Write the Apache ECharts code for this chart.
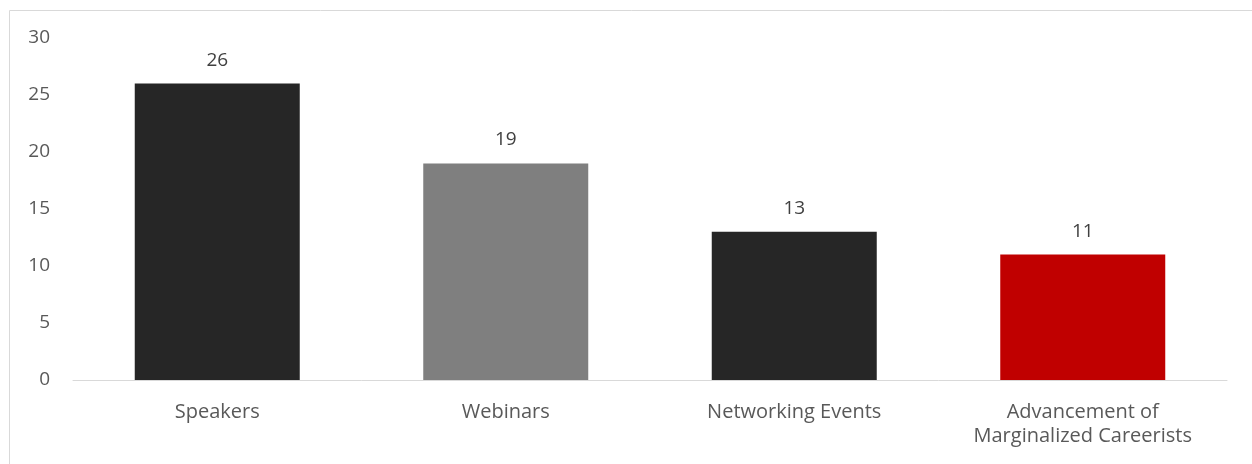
<!DOCTYPE html>
<html>
<head>
<meta charset="utf-8">
<script src="https://cdn.jsdelivr.net/npm/echarts@6/dist/echarts.min.js"></script>
<style>
  html, body { margin: 0; padding: 0; background: #fff; }
  #chart { width: 1252px; height: 464px; }
</style>
</head>
<body>
<div id="chart"></div>
<script>
const categories = ['Speakers', 'Webinars', 'Networking Events', 'Advancement of\nMarginalized Careerists'];
const values = [26, 19, 13, 11];
const barColors = ['#262626', '#7f7f7f', '#262626', '#c00000'];
const yTicks = { min: 0, max: 30, interval: 5 };

const chart = echarts.init(document.getElementById('chart'));
const font = '"Open Sans", "Noto Sans", sans-serif';

chart.setOption({
  animation: false,
  graphic: [{
    type: 'rect',
    shape: { x: 9.5, y: 10.5, width: 1300, height: 500 },
    style: { fill: 'none', stroke: '#d9d9d9', lineWidth: 1 },
    silent: true
  }],
  grid: { left: 73, right: 25, top: 38, bottom: 84 },
  xAxis: {
    type: 'category',
    data: categories,
    axisLine: { lineStyle: { color: '#d9d9d9', width: 1 } },
    axisTick: { show: false },
    axisLabel: {
      color: '#595959', fontFamily: font, fontSize: 20,
      margin: 20, lineHeight: 24, interval: 0
    }
  },
  yAxis: {
    type: 'value',
    min: yTicks.min, max: yTicks.max, interval: yTicks.interval,
    axisLine: { show: false },
    axisTick: { show: false },
    splitLine: { show: false },
    axisLabel: { color: '#595959', fontFamily: font, fontSize: 19, margin: 23 }
  },
  series: [{
    type: 'bar',
    barWidth: 165,
    data: values.map((v, i) => ({ value: v, itemStyle: { color: barColors[i] } })),
    label: {
      show: true, position: 'top', distance: 14,
      color: '#404040', fontFamily: font, fontSize: 19
    }
  }]
});
</script>
</body>
</html>
